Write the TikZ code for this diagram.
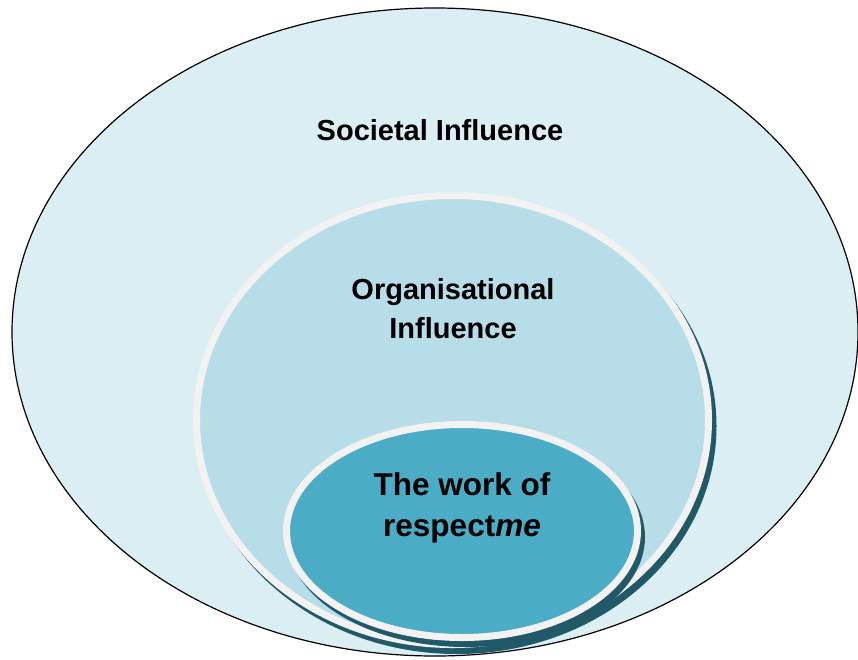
\documentclass[tikz,border=0pt]{standalone}
\usepackage{fontspec}
\setmainfont{Liberation Sans}
\definecolor{outerfill}{HTML}{DBEEF4}
\definecolor{midfill}{HTML}{B7DDE8}
\definecolor{innerfill}{HTML}{4BACC6}
\definecolor{shadowc}{HTML}{215968}
\definecolor{rimc}{HTML}{F2F2F2}
\begin{document}
\begin{tikzpicture}[x=1pt,y=-1pt,
  lbl/.style={font=\bfseries\fontsize{29}{39}\selectfont, align=center, inner sep=0pt},
  lblbig/.style={font=\bfseries\fontsize{31.5}{41}\selectfont, align=center, inner sep=0pt},
  rim/.style={draw=rimc, line width=7pt}]
\useasboundingbox (0,0) rectangle (858,659);
% outer
\draw[fill=outerfill, draw=black, line width=1.2pt] (435,332) ellipse [x radius=423, y radius=324];
% middle
\fill[shadowc] (457,426) ellipse [x radius=259.5, y radius=228];
\draw[rim, fill=midfill] (452.5,420) ellipse [x radius=256, y radius=224.5];
% inner
\fill[shadowc] (466,537) ellipse [x radius=179, y radius=110];
\draw[rim, fill=innerfill] (462,531) ellipse [x radius=175.5, y radius=106.5];
% labels
\node[lbl] (soc) at (440,130) {Societal Influence};
\node[lbl] (org) at (453,309) {Organisational\\Influence};
\node[lblbig] (core) at (462,508) {The work of\\respect\textit{me}};
\end{tikzpicture}
\end{document}
